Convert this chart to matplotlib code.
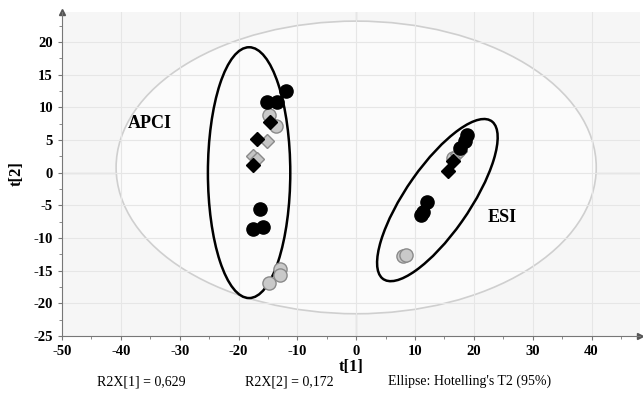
import matplotlib.pyplot as plt
from matplotlib.patches import Ellipse
from matplotlib.ticker import MultipleLocator

plt.rcParams['font.family'] = ['Liberation Serif', 'DejaVu Serif']
plt.rcParams['axes.unicode_minus'] = False

# scores t[1], t[2] per group / marker
apci_black_circle_x = [-11.9, -15.1, -13.4, -16.4, -17.5, -15.8]
apci_black_circle_y = [12.5, 10.8, 10.8, -5.5, -8.6, -8.3]
apci_gray_circle_x = [-14.9, -13.7, -12.9, -12.9, -14.9]
apci_gray_circle_y = [8.8, 7.2, -14.8, -15.7, -16.9]
apci_black_diamond_x = [-14.6, -16.8, -17.5]
apci_black_diamond_y = [7.8, 5.2, 1.1]
apci_gray_diamond_x = [-15.1, -17.5, -16.9]
apci_gray_diamond_y = [4.9, 2.5, 2.1]

esi_black_circle_x = [18.8, 18.5, 17.6, 12.0, 11.0, 11.4]
esi_black_circle_y = [5.7, 4.9, 3.8, -4.5, -6.5, -6.0]
esi_gray_circle_x = [16.4, 8.0, 8.5]
esi_gray_circle_y = [2.3, -12.8, -12.6]
esi_black_diamond_x = [16.4, 15.6]
esi_black_diamond_y = [1.8, 0.2]
esi_gray_diamond_x = [17.1, 17.6]
esi_gray_diamond_y = [2.8, 3.3]

fig = plt.figure(figsize=(6.43, 3.99), dpi=100)
ax = fig.add_axes([0.0964, 0.158, 0.8986, 0.812])
ax.set_facecolor('#f6f6f6')
ax.set_xlim(-50, 48.2)
ax.set_ylim(-25, 24.6)

ax.xaxis.set_major_locator(MultipleLocator(10))
ax.xaxis.set_minor_locator(MultipleLocator(5))
ax.yaxis.set_major_locator(MultipleLocator(5))
ax.yaxis.set_minor_locator(MultipleLocator(2.5))
ax.grid(True, which='major', color='#e6e6e6', linewidth=0.8, zorder=0)
ax.axhline(0, color='#888888', linewidth=0.8, zorder=1)
ax.axvline(0, color='#888888', linewidth=0.8, zorder=1)

# Hotelling T2 ellipse
ax.add_patch(Ellipse((0, 0.8), 2 * 40.8, 2 * 22.4, facecolor='#fbfbfb',
                     edgecolor='#cfcfcf', linewidth=1.2, zorder=1))

# group ellipses
ax.add_patch(Ellipse((-18.2, 0.0), 2 * 7.0, 2 * 19.2, facecolor='none',
                     edgecolor='black', linewidth=1.8, zorder=2))
ax.add_patch(Ellipse((13.8, -4.2), 2 * 15.2, 2 * 5.3, angle=52,
                     facecolor='none', edgecolor='black', linewidth=1.8, zorder=2))

ms = 9.5
for xs, ys, mk, fc, ec in [
        (apci_gray_circle_x, apci_gray_circle_y, 'o', '#c9c9c9', '#8a8a8a'),
        (esi_gray_circle_x, esi_gray_circle_y, 'o', '#c9c9c9', '#8a8a8a'),
        (apci_gray_diamond_x, apci_gray_diamond_y, 'D', '#c4c4c4', '#8a8a8a'),
        (esi_gray_diamond_x, esi_gray_diamond_y, 'D', '#c4c4c4', '#8a8a8a'),
        (apci_black_circle_x, apci_black_circle_y, 'o', 'black', 'black'),
        (esi_black_circle_x, esi_black_circle_y, 'o', 'black', 'black'),
        (apci_black_diamond_x, apci_black_diamond_y, 'D', 'black', 'black'),
        (esi_black_diamond_x, esi_black_diamond_y, 'D', 'black', 'black')]:
    size = ms if mk == 'o' else ms * 0.75
    ax.plot(xs, ys, linestyle='none', marker=mk, markersize=size,
            markerfacecolor=fc, markeredgecolor=ec, markeredgewidth=1, zorder=3)

ax.text(-35, 7.5, 'APCI', fontsize=13, fontweight='bold', ha='center', va='center')
ax.text(24.9, -6.8, 'ESI', fontsize=13, fontweight='bold', ha='center', va='center')

for s in ['top', 'right']:
    ax.spines[s].set_visible(False)
for s in ['left', 'bottom']:
    ax.spines[s].set_color('#777777')
ax.tick_params(which='both', direction='out', color='#777777', labelsize=10.5)
ax.tick_params(which='major', length=3)
ax.tick_params(which='minor', length=2)
ax.set_xticks(range(-50, 41, 10))
ax.set_xlim(-50, 48.2)
for lab in ax.get_xticklabels() + ax.get_yticklabels():
    lab.set_fontweight('bold')

# arrow heads on axes
ax.plot(1, 0, '>', color='#555555', markersize=4, transform=ax.transAxes, clip_on=False)
ax.plot(0, 1, '^', color='#555555', markersize=5, transform=ax.transAxes, clip_on=False)

ax.set_xlabel('t[1]', fontsize=12, fontweight='bold', labelpad=1)
ax.set_ylabel('t[2]', fontsize=12, fontweight='bold', labelpad=6)

fig.text(0.151, 0.035, 'R2X[1] = 0,629', fontsize=10)
fig.text(0.381, 0.035, 'R2X[2] = 0,172', fontsize=10)
fig.text(0.603, 0.035, "Ellipse: Hotelling's T2 (95%)", fontsize=10)

fig.savefig('out.png', dpi=100)
